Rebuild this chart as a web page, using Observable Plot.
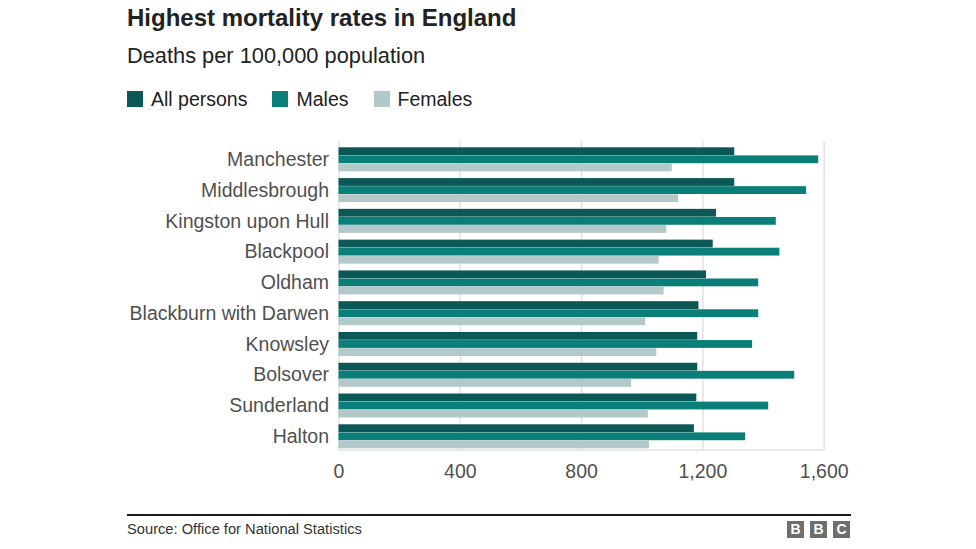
<!DOCTYPE html>
<html>
<head>
<meta charset="utf-8">
<script src="https://cdn.jsdelivr.net/npm/d3@7"></script>
<script src="https://cdn.jsdelivr.net/npm/@observablehq/plot@0.6"></script>
<style>
  html, body { margin: 0; padding: 0; background: #fff; }
  body { width: 976px; height: 549px; position: relative; overflow: hidden;
         font-family: "Liberation Sans", Arial, Helvetica, sans-serif; }
  #title { position: absolute; left: 127px; top: 5.7px; font-size: 24px; line-height: 1; font-weight: bold; color: #222; white-space: nowrap; }
  #subtitle { position: absolute; left: 127px; top: 45.4px; font-size: 21.8px; line-height: 1; color: #222; white-space: nowrap; }
  #legend { position: absolute; left: 127px; top: 89.5px; display: flex; align-items: center; font-size: 19.5px; line-height: 1; color: #222; }
  .item { display: flex; align-items: center; margin-right: 25px; white-space: nowrap; }
  .sw { width: 16px; height: 16px; margin-right: 8px; display: inline-block; }
  #chart { position: absolute; left: 0; top: 120px; }
  #rule { position: absolute; left: 127px; top: 514px; width: 724px; height: 1.5px; background: #1a1a1a; }
  #source { position: absolute; left: 127px; top: 521.8px; font-size: 14.7px; line-height: 1; color: #333; white-space: nowrap; }
  #bbc { position: absolute; left: 787px; top: 521px; display: flex; }
  #bbc span { width: 17px; height: 17px; background: #6e6e6e; color: #fff; margin-right: 6px;
              font-weight: bold; font-size: 14px; line-height: 17px; text-align: center; }
  #bbc span:last-child { margin-right: 0; }
</style>
</head>
<body>
<div id="title">Highest mortality rates in England</div>
<div id="subtitle">Deaths per 100,000 population</div>
<div id="legend"></div>
<div id="chart"></div>
<div id="rule"></div>
<div id="source">Source: Office for National Statistics</div>
<div id="bbc"><span>B</span><span>B</span><span>C</span></div>
<script>
const cities = ["Manchester", "Middlesbrough", "Kingston upon Hull", "Blackpool", "Oldham",
  "Blackburn with Darwen", "Knowsley", "Bolsover", "Sunderland", "Halton"];
const allPersons = [1305, 1305, 1245, 1234, 1212, 1187, 1183, 1183, 1180, 1172];
const males      = [1582, 1542, 1442, 1454, 1384, 1384, 1364, 1503, 1417, 1341];
const females    = [1099, 1120, 1081, 1056, 1072, 1011, 1048, 965, 1020, 1024];
const series = ["All persons", "Males", "Females"];
const colors = ["#0c5856", "#0a7e79", "#b3c8c8"];
const xTicks = [0, 400, 800, 1200, 1600];

const values = [allPersons, males, females];
const data = cities.flatMap((city, i) =>
  series.map((s, k) => ({city, series: s, value: values[k][i]})));

// legend
const legend = document.getElementById("legend");
series.forEach((s, k) => {
  const item = document.createElement("div");
  item.className = "item";
  const sw = document.createElement("span");
  sw.className = "sw";
  sw.style.background = colors[k];
  item.appendChild(sw);
  item.appendChild(document.createTextNode(s));
  legend.appendChild(item);
});

const chart = Plot.plot({
  width: 976,
  height: 370,
  marginLeft: 338.5,
  marginRight: 152.3,
  marginTop: 21,
  marginBottom: 40,
  style: {fontFamily: '"Liberation Sans", Arial, Helvetica, sans-serif', fontSize: "19.5px", color: "#505050", background: "transparent", overflow: "visible"},
  x: {domain: [0, 1600], ticks: xTicks, tickFormat: d3.format(","), tickSize: 0, tickPadding: 13.5, label: null, axis: "bottom"},
  y: {domain: cities, range: [27.3, 328.3], paddingInner: 0.22, paddingOuter: 0, round: false, tickSize: 0, tickPadding: 10, label: null, axis: "left"},
  color: {domain: series, range: colors},
  marks: [
    Plot.ruleX(xTicks, {stroke: "#e2e2e2", strokeWidth: 1.5}),
    ...series.map((s, k) => Plot.barX(data, {
      filter: d => d.series === s,
      x: "value", y: "city", fill: "series",
      insetTop: k * 8.1, insetBottom: (2 - k) * 8.1
    }))
  ]
});
document.getElementById("chart").appendChild(chart);

// light baseline along the bottom of the plot frame
const xs = chart.scale("x");
const yBottom = 370 - 40;
d3.select(chart).append("line")
  .attr("x1", xs.apply(0)).attr("x2", xs.apply(1600))
  .attr("y1", yBottom).attr("y2", yBottom)
  .attr("stroke", "#e2e2e2").attr("stroke-width", 1.5);
</script>
</body>
</html>
